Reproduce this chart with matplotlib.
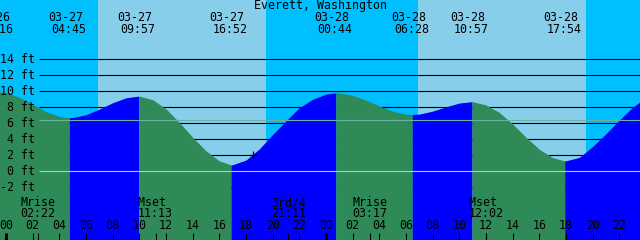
import numpy as np
import matplotlib
matplotlib.use("Agg")
import matplotlib.pyplot as plt

TITLE = "Everett, Washington"

# high / low tides, hours counted from 03-27 00:00
tide_dates = ["03-26", "03-27", "03-27", "03-27", "03-28", "03-28", "03-28", "03-28"]
tide_times = ["23:16", "04:45", "09:57", "16:52", "00:44", "06:28", "10:57", "17:54"]
tide_hours = [-0.73, 4.75, 9.95, 16.87, 24.73, 30.47, 34.95, 41.90]
tide_ft = [10.0, 6.7, 9.4, 0.8, 9.8, 7.1, 8.7, 1.3]

# tide level every hour
hourly_hours = list(range(0, 49))
hourly_ft = [
    9.86, 9.25, 8.36, 7.46, 6.85, 6.72, 7.07, 7.77, 8.57, 9.18,
    9.39, 8.95, 7.80, 6.10, 4.25, 2.55, 1.30, 0.82, 1.40, 2.80,
    4.60, 6.30, 7.95, 9.00, 9.65, 9.79, 9.49, 8.89, 8.16, 7.51,
    7.14, 7.15, 7.52, 8.06, 8.53, 8.69, 8.29, 7.35, 5.90, 4.25,
    2.75, 1.70, 1.31, 1.74, 3.10, 4.70, 6.40, 8.00, 9.20,
]

sunrise_hours = [6.9, 30.9]
sunset_hours = [19.5, 43.5]

moon_names = ["Mrise", "Mset", "3rd/4", "Mrise", "Mset"]
moon_times = ["02:22", "11:13", "21:11", "03:17", "12:02"]
moon_hours = [2.37, 11.22, 21.18, 27.28, 36.03]

ft_levels = [14, 12, 10, 8, 6, 4, 2, 0, -2]
mean_sea_level = 6.4
now_hour, now_ft = 18.53, 2.0

NIGHT = "#00BFFF"
DAY = "#87CEEB"
FALLING = "#2E8B57"
RISING = "#0000FF"

LEFT, RIGHT = -0.45, 47.55
BOTTOM, TOP = -8.59, 21.41
GRID_START = 2.475

plt.rcParams["font.family"] = ["DejaVu Sans Mono"]
plt.rcParams["font.size"] = 8.4

fig = plt.figure(figsize=(6.4, 2.4), dpi=100)
ax = fig.add_axes([0, 0, 1, 1])
ax.set_xlim(LEFT, RIGHT)
ax.set_ylim(BOTTOM, TOP)
ax.axis("off")

# sky: night everywhere, day bands on top
ax.axvspan(LEFT, RIGHT, color=NIGHT, lw=0, zorder=0)
for rise, sset in zip(sunrise_hours, sunset_hours):
    ax.axvspan(rise, sset, color=DAY, lw=0, zorder=0)

ax.hlines(ft_levels, GRID_START, RIGHT, color="black", lw=0.8, zorder=1)

# water: green while falling, blue while rising
hrs = np.array(hourly_hours + tide_hours, dtype=float)
ft = np.array(hourly_ft + tide_ft, dtype=float)
order = np.argsort(hrs)
hrs, ft = hrs[order], ft[order]
falling = np.diff(ft) < 0
start = 0
for i in range(1, len(falling) + 1):
    if i == len(falling) or falling[i] != falling[start]:
        ax.fill_between(hrs[start:i + 1], ft[start:i + 1], BOTTOM,
                        color=FALLING if falling[start] else RISING,
                        lw=0, zorder=2)
        start = i

ax.hlines([mean_sea_level], GRID_START, RIGHT, color="#6AB0A0", lw=0.8, zorder=3)
ax.hlines([0], GRID_START, RIGHT, color="#9AD4E4", lw=0.8, zorder=3)

ax.plot(now_hour, now_ft, marker="+", ms=6, mew=0.9, color="black", zorder=4)

for lvl in ft_levels:
    ax.text(2.2, lvl, f"{lvl} ft", ha="right", va="center", zorder=5)

# header
fig.text(0.5, 1 - 6 / 240, TITLE, ha="center", va="center")
for d, t, h in zip(tide_dates, tide_times, tide_hours):
    ax.text(h - 0.3, 1 - 17.5 / 240, d, ha="center", va="center",
            transform=ax.get_xaxis_transform())
    ax.text(h - 0.05, 1 - 29.7 / 240, t, ha="center", va="center",
            transform=ax.get_xaxis_transform())

# time axis along the bottom
xt = ax.get_xaxis_transform()
for h in range(0, 50, 2):
    ax.text(h, 1 - 225.5 / 240, f"{h % 24:02d}", ha="center", va="center",
            transform=xt, zorder=5)
    ax.vlines(h, 0, 7 / 240, transform=xt, color="black",
              lw=2.2 if h % 24 == 0 else 0.8, zorder=5)

for name, t, h in zip(moon_names, moon_times, moon_hours):
    ax.text(h, 1 - 202.5 / 240, name.ljust(5), ha="center", va="center",
            transform=xt, zorder=5)
    ax.text(h, 1 - 213.8 / 240, t, ha="center", va="center",
            transform=xt, zorder=5)
    ax.vlines(h, 0, 7 / 240, transform=xt, color="black", lw=0.8, zorder=5)

fig.savefig("out.png", dpi=100)
